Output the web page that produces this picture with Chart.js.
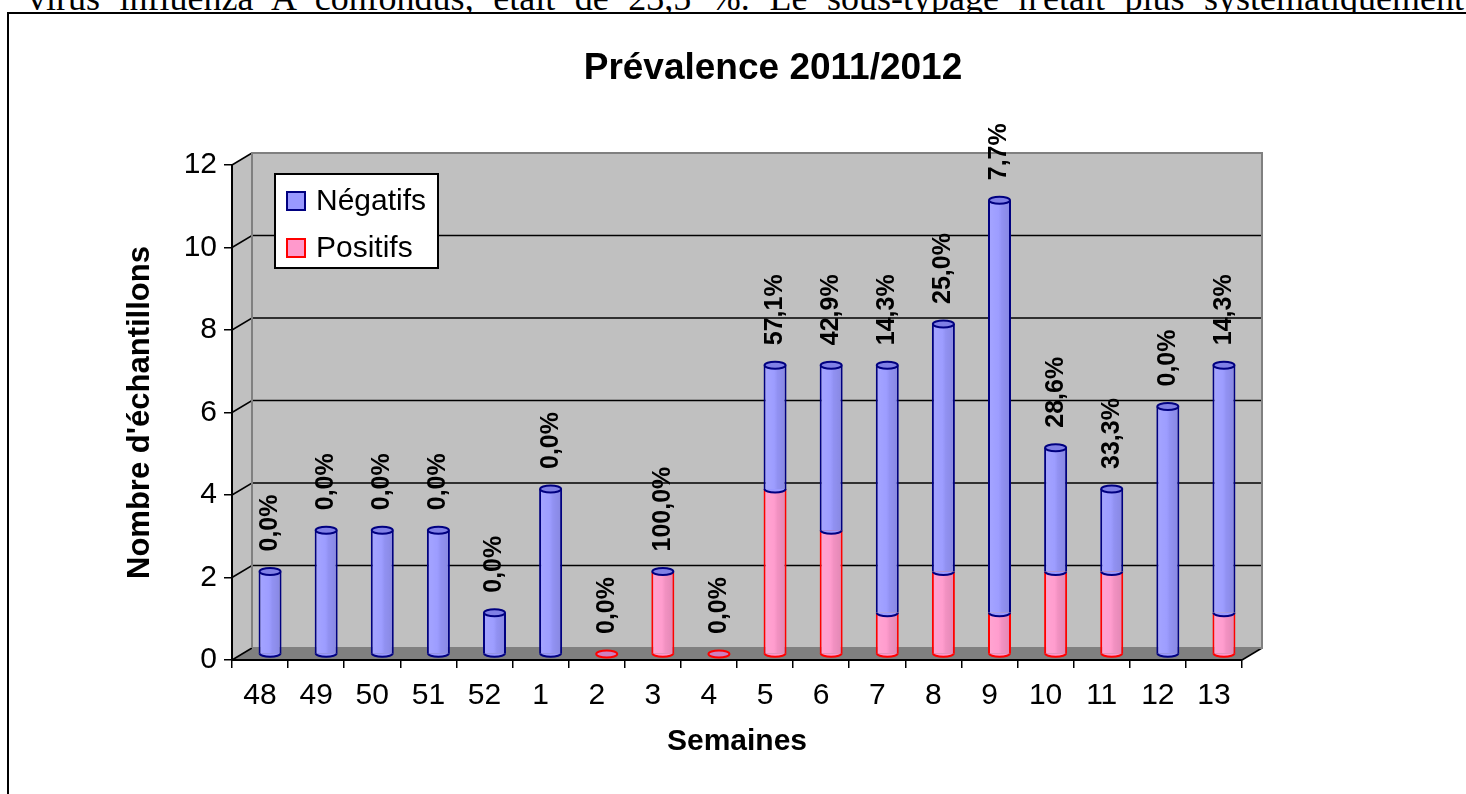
<!DOCTYPE html>
<html lang="fr">
<head>
<meta charset="utf-8">
<title>Prévalence 2011/2012</title>
<script src="https://cdn.jsdelivr.net/npm/chart.js@4.4.1/dist/chart.umd.min.js"></script>
<style>
  html, body { margin: 0; padding: 0; background: #fff; overflow: hidden; }
  .texte {
    position: absolute; left: 28px; top: -20px; width: 1436px;
    font: 36px/36px "Liberation Serif", "Times New Roman", serif;
    text-align: justify; text-align-last: justify; color: #000; white-space: nowrap;
  }
  .cadre {
    position: absolute; left: 7px; top: 12px; width: 1470px; height: 800px;
    border-left: 2px solid #000; border-top: 2px solid #000; background: #fff;
  }
  .titre {
    position: absolute; left: 573px; top: 46px; width: 400px; text-align: center;
    font: bold 37px "Liberation Sans", Arial, sans-serif; color: #000;
  }
</style>
</head>
<body>
<div class="texte">virus influenza A confondus, était de 23,5 %. Le sous-typage n'était plus systématiquement</div>
<div class="cadre"><canvas id="prevalence"></canvas></div>
<div class="titre">Prévalence 2011/2012</div>
<script>
    // Données
    const semaines = ['48', '49', '50', '51', '52', '1', '2', '3', '4', '5', '6', '7', '8', '9', '10', '11', '12', '13'];
    const positifs = [0, 0, 0, 0, 0, 0, 0, 2, 0, 4, 3, 1, 2, 1, 2, 2, 0, 1];
    const negatifs = [2, 3, 3, 3, 1, 4, 0, 0, 0, 3, 4, 6, 6, 10, 3, 2, 6, 6];
    const pourcentages = ['0,0%', '0,0%', '0,0%', '0,0%', '0,0%', '0,0%', '0,0%', '100,0%', '0,0%',
        '57,1%', '42,9%', '14,3%', '25,0%', '7,7%', '28,6%', '33,3%', '0,0%', '14,3%'];
    const yMin = 0, yMax = 12, yPas = 2;

    // profondeur de l'effet 3D
    const DX = 20, DY = -12;

    Chart.defaults.font.family = '"Liberation Sans", Arial, sans-serif';
    Chart.defaults.color = '#000';

    // Paroi de fond, paroi latérale et sol
    const paroi = {
        id: 'paroi',
        beforeDraw(chart) {
            const { ctx, chartArea: ca, scales: { y } } = chart;
            const y0 = y.getPixelForValue(y.min);
            const yH = y.getPixelForValue(y.max);
            ctx.save();
            ctx.fillStyle = '#c0c0c0';
            ctx.beginPath();
            ctx.moveTo(ca.left, yH);
            ctx.lineTo(ca.left + DX, yH + DY);
            ctx.lineTo(ca.right + DX, yH + DY);
            ctx.lineTo(ca.right + DX, y0 + DY);
            ctx.lineTo(ca.left, y0);
            ctx.closePath();
            ctx.fill();

            ctx.fillStyle = '#808080';
            ctx.beginPath();
            ctx.moveTo(ca.left, y0);
            ctx.lineTo(ca.right, y0);
            ctx.lineTo(ca.right + DX, y0 + DY);
            ctx.lineTo(ca.left + DX, y0 + DY);
            ctx.closePath();
            ctx.fill();

            ctx.strokeStyle = '#000';
            ctx.lineWidth = 1.5;
            y.ticks.forEach(t => {
                const py = y.getPixelForValue(t.value);
                ctx.beginPath();
                ctx.moveTo(ca.left, py);
                ctx.lineTo(ca.left + DX, py + DY);
                if (t.value > y.min && t.value < y.max) {
                    ctx.lineTo(ca.right + DX, py + DY);
                }
                ctx.stroke();
            });
            ctx.beginPath();
            ctx.moveTo(ca.right, y0);
            ctx.lineTo(ca.right + DX, y0 + DY);
            ctx.stroke();

            ctx.strokeStyle = '#808080';
            ctx.lineWidth = 2;
            ctx.beginPath();
            ctx.moveTo(ca.left + DX, y0 + DY);
            ctx.lineTo(ca.left + DX, yH + DY);
            ctx.lineTo(ca.right + DX, yH + DY);
            ctx.lineTo(ca.right + DX, y0 + DY);
            ctx.lineTo(ca.left + DX, y0 + DY);
            ctx.stroke();
            ctx.restore();
        }
    };

    // Barres décalées au milieu de la profondeur, avec capuchons et étiquettes
    const relief = {
        id: 'relief',
        beforeDatasetsDraw(chart) {
            chart.ctx.save();
            chart.ctx.translate(DX / 2, DY / 2);
        },
        afterDatasetsDraw(chart) {
            const ctx = chart.ctx;
            const y = chart.scales.y;
            const bas = chart.getDatasetMeta(0).data;
            const haut = chart.getDatasetMeta(1).data;
            const ry = 3.5;

            semaines.forEach((s, i) => {
                const total = positifs[i] + negatifs[i];
                const x = bas[i].x;
                const w = bas[i].width;
                const rx = w / 2;

                // ombrage du cylindre
                [[bas[i], positifs[i]], [haut[i], negatifs[i]]].forEach(([el, v]) => {
                    if (!v) return;
                    const g = ctx.createLinearGradient(x - rx, 0, x + rx, 0);
                    g.addColorStop(0, 'rgba(255,255,255,0.12)');
                    g.addColorStop(0.45, 'rgba(255,255,255,0.04)');
                    g.addColorStop(0.6, 'rgba(0,0,0,0.05)');
                    g.addColorStop(1, 'rgba(0,0,0,0.12)');
                    ctx.fillStyle = g;
                    ctx.fillRect(x - rx + 2, el.y, w - 4, el.base - el.y);
                });

                ctx.lineWidth = 2;
                if (total > 0) {
                    // base arrondie
                    const premier = positifs[i] ? 0 : 1;
                    const ds = chart.data.datasets[premier];
                    const el = premier ? haut[i] : bas[i];
                    ctx.beginPath();
                    ctx.ellipse(x, el.base, rx - 1, ry, 0, 0, Math.PI);
                    ctx.fillStyle = ds.backgroundColor;
                    ctx.fill();
                    ctx.strokeStyle = ds.borderColor;
                    ctx.stroke();

                    // jonction positifs / négatifs
                    if (positifs[i] && negatifs[i]) {
                        const dn = chart.data.datasets[1];
                        ctx.beginPath();
                        ctx.ellipse(x, haut[i].base, rx - 1, ry, 0, 0, Math.PI);
                        ctx.fillStyle = dn.backgroundColor;
                        ctx.fill();
                        ctx.strokeStyle = dn.borderColor;
                        ctx.stroke();
                    }
                }

                // capuchon
                const yTop = y.getPixelForValue(total);
                ctx.beginPath();
                ctx.ellipse(x, yTop, rx - 1, ry, 0, 0, Math.PI * 2);
                if (total > 0) {
                    ctx.fillStyle = '#8080e6';
                    ctx.strokeStyle = '#000080';
                } else {
                    ctx.fillStyle = '#d080c0';
                    ctx.strokeStyle = '#ff0000';
                }
                ctx.fill();
                ctx.stroke();

                // pourcentage de positifs
                ctx.save();
                ctx.translate(x, yTop - 20);
                ctx.rotate(-Math.PI / 2);
                ctx.font = 'bold 25px "Liberation Sans", Arial, sans-serif';
                ctx.fillStyle = '#000';
                ctx.textAlign = 'left';
                ctx.textBaseline = 'middle';
                ctx.fillText(pourcentages[i], 0, 0);
                ctx.restore();
            });
            ctx.restore();
        }
    };

    // Légende encadrée dans la zone du graphique
    const legende = {
        id: 'legende',
        afterDraw(chart) {
            const { ctx, chartArea: ca } = chart;
            const bx = ca.left + 43, by = ca.top + 9, bw = 163, bh = 94;
            ctx.save();
            ctx.fillStyle = '#fff';
            ctx.fillRect(bx, by, bw, bh);
            ctx.strokeStyle = '#000';
            ctx.lineWidth = 2;
            ctx.strokeRect(bx, by, bw, bh);
            const items = chart.data.datasets.slice().reverse();
            items.forEach((ds, k) => {
                const cy = by + 27 + k * 47;
                ctx.fillStyle = ds.backgroundColor;
                ctx.fillRect(bx + 12, cy - 9, 18, 18);
                ctx.strokeStyle = ds.borderColor;
                ctx.lineWidth = 2;
                ctx.strokeRect(bx + 12, cy - 9, 18, 18);
                ctx.fillStyle = '#000';
                ctx.font = '30px "Liberation Sans", Arial, sans-serif';
                ctx.textAlign = 'left';
                ctx.textBaseline = 'middle';
                ctx.fillText(ds.label, bx + 41, cy + 1);
            });
            ctx.restore();
        }
    };

    new Chart(document.getElementById('prevalence'), {
        type: 'bar',
        data: {
            labels: semaines,
            datasets: [{
                label: 'Positifs',
                data: positifs,
                backgroundColor: '#ff99cc',
                borderColor: '#ff0000',
                borderWidth: 2
            }, {
                label: 'Négatifs',
                data: negatifs,
                backgroundColor: '#9999ff',
                borderColor: '#000080',
                borderWidth: 2
            }]
        },
        options: {
            responsive: true,
            maintainAspectRatio: false,
            animation: false,
            layout: {
                padding: { left: 113, right: 237, top: 151, bottom: 54 }
            },
            datasets: {
                bar: { categoryPercentage: 0.41, barPercentage: 1 }
            },
            plugins: {
                legend: { display: false },
                tooltip: { enabled: false }
            },
            scales: {
                x: {
                    stacked: true,
                    grid: { drawOnChartArea: false, color: '#000', tickLength: 8, lineWidth: 1.5 },
                    border: { color: '#000', width: 2 },
                    ticks: { color: '#000', font: { size: 30 }, padding: 10, maxRotation: 0 },
                    title: {
                        display: true,
                        text: 'Semaines',
                        color: '#000',
                        font: { size: 30, weight: 'bold' },
                        padding: 0
                    },
                    afterFit: scale => { scale.height = 100; }
                },
                y: {
                    stacked: true,
                    min: yMin,
                    max: yMax,
                    grid: { drawOnChartArea: false, color: '#000', tickLength: 8, lineWidth: 1.5 },
                    border: { color: '#000', width: 2 },
                    ticks: { stepSize: yPas, color: '#000', font: { size: 30 }, padding: 7 },
                    title: {
                        display: true,
                        text: "Nombre d'échantillons",
                        color: '#000',
                        font: { size: 31, weight: 'bold' },
                        padding: 0
                    },
                    afterFit: scale => { scale.width = 110; }
                }
            }
        },
        plugins: [paroi, relief, legende]
    });
</script>
</body>
</html>
